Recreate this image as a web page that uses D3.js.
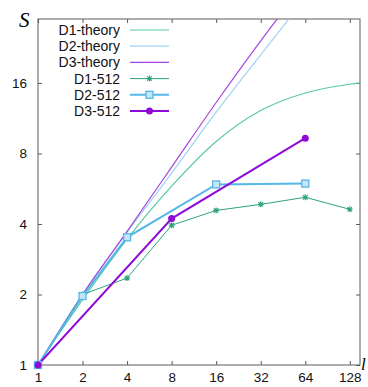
<!DOCTYPE html>
<html>
<head>
<meta charset="utf-8">
<script src="https://cdn.jsdelivr.net/npm/d3@7"></script>
<style>
  body { margin: 0; background: #fff; }
  svg { display: block; font-family: "Liberation Sans", Arial, sans-serif; }
</style>
</head>
<body>
<div class="chart"></div>
<script>
/* data */
const xTicks = [1, 2, 4, 8, 16, 32, 64, 128];
const yTicks = [1, 2, 4, 8, 16];

// theory curves (sampled)
const theoryL  = [1, 2, 4, 8, 16, 32, 64, 128, 150];
const d1Theory = [1, 1.9, 3.45, 5.8, 9.0, 12.2, 14.5, 15.8, 16.0];
const d2Theory = [1, 2, 3.68, 6.6, 12.0, 21.1, 36.8];
const d3Theory = [1, 2, 3.72, 7.0, 13.2, 24.2, 43];

// measured
const d1L = [1, 2, 4, 8, 16, 32, 64, 128];
const d1S = [1, 2.0, 2.35, 3.95, 4.57, 4.85, 5.2, 4.62];
const d2L = [1, 2, 4, 16, 64];
const d2S = [1, 1.97, 3.51, 5.9, 5.95];
const d3L = [1, 8, 64];
const d3S = [1, 4.22, 9.3];

const svg_width = 368, svg_height = 387;
const plot = { left: 38, right: 360, top: 19, bottom: 365 };

const svg = d3.select(".chart").append("svg")
    .attr("width", svg_width).attr("height", svg_height);

const xScale = d3.scaleLog().base(2).domain([1, 150]).range([plot.left, plot.right]);
const yScale = d3.scaleLog().base(2).domain([1, 30]).range([plot.bottom, plot.top]);

/* clip */
svg.append("clipPath").attr("id", "clip").append("rect")
    .attr("x", plot.left).attr("y", plot.top)
    .attr("width", plot.right - plot.left).attr("height", plot.bottom - plot.top);

const axisColor = "#5a5a5a";

/* axes */
function styleAxis(g) {
    g.select(".domain").remove();
    g.selectAll(".tick line").attr("stroke", axisColor);
    g.selectAll(".tick text").attr("fill", "#111").style("font-size", "13.5px")
        .style("font-family", "'Liberation Sans', Arial, sans-serif");
}
svg.append("g").attr("transform", `translate(0,${plot.bottom})`)
    .call(d3.axisBottom(xScale).tickValues(xTicks).tickFormat(d3.format("d"))
        .tickSizeInner(-4).tickSizeOuter(0).tickPadding(7))
    .call(styleAxis);
svg.append("g").attr("transform", `translate(0,${plot.top})`)
    .call(d3.axisTop(xScale).tickValues(xTicks).tickFormat("")
        .tickSizeInner(-4).tickSizeOuter(0))
    .call(styleAxis);
svg.append("g").attr("transform", `translate(${plot.left},0)`)
    .call(d3.axisLeft(yScale).tickValues(yTicks).tickFormat(d3.format("d"))
        .tickSizeInner(-4).tickSizeOuter(0).tickPadding(11))
    .call(styleAxis);
svg.append("g").attr("transform", `translate(${plot.right},0)`)
    .call(d3.axisRight(yScale).tickValues(yTicks).tickFormat("")
        .tickSizeInner(-4).tickSizeOuter(0))
    .call(styleAxis);

svg.append("rect")
    .attr("x", plot.left).attr("y", plot.top)
    .attr("width", plot.right - plot.left).attr("height", plot.bottom - plot.top)
    .attr("fill", "none").attr("stroke", axisColor).attr("stroke-width", 1);

/* axis labels */
svg.append("text").attr("x", 19).attr("y", 27)
    .style("font-family", "'Liberation Serif', 'Times New Roman', serif")
    .style("font-style", "italic").style("font-size", "21px").text("S");
svg.append("text").attr("x", 361).attr("y", 370)
    .style("font-family", "'Liberation Serif', 'Times New Roman', serif")
    .style("font-style", "italic").style("font-size", "17px").text("l");

/* series */
const series = [
    { name: "D1-theory", l: theoryL, s: d1Theory, color: "#58c9a0", width: 1.2, curve: true },
    { name: "D2-theory", l: theoryL, s: d2Theory, color: "#9ed2f3", width: 1.2, curve: true },
    { name: "D3-theory", l: theoryL, s: d3Theory, color: "#a546e0", width: 1.2, curve: true },
    { name: "D1-512", l: d1L, s: d1S, color: "#2ea37c", width: 1, marker: "star" },
    { name: "D2-512", l: d2L, s: d2S, color: "#55b6ea", width: 2, marker: "square" },
    { name: "D3-512", l: d3L, s: d3S, color: "#8f0ad6", width: 2, marker: "circle" }
];

const chartGroup = svg.append("g").attr("clip-path", "url(#clip)");

series.forEach(sr => {
    const pts = sr.s.map((v, i) => [sr.l[i], v]);
    const lineGen = d3.line()
        .x(d => xScale(d[0])).y(d => yScale(d[1]))
        .curve(sr.curve ? d3.curveMonotoneX : d3.curveLinear);
    chartGroup.append("path")
        .attr("d", lineGen(pts))
        .attr("fill", "none").attr("stroke", sr.color).attr("stroke-width", sr.width);
    if (sr.marker) {
        pts.forEach(p => drawMarker(svg, sr, xScale(p[0]), yScale(p[1])));
    }
});

function drawMarker(g, sr, cx, cy) {
    if (sr.marker === "star") {
        const r = 3;
        g.append("path")
            .attr("d", `M${cx - r},${cy}h${2 * r}M${cx},${cy - r}v${2 * r}` +
                `M${cx - r * 0.75},${cy - r * 0.75}l${1.5 * r},${1.5 * r}` +
                `M${cx - r * 0.75},${cy + r * 0.75}l${1.5 * r},${-1.5 * r}`)
            .attr("stroke", sr.color).attr("stroke-width", 1.1).attr("fill", "none");
    } else if (sr.marker === "square") {
        g.append("rect").attr("x", cx - 3.5).attr("y", cy - 3.5)
            .attr("width", 7).attr("height", 7)
            .attr("fill", "#c6e6f8").attr("stroke", sr.color).attr("stroke-width", 1.3);
    } else {
        g.append("circle").attr("cx", cx).attr("cy", cy).attr("r", 3.5)
            .attr("fill", sr.color);
    }
}

/* legend */
const legend = svg.append("g");
series.forEach((sr, i) => {
    const y = 30 + i * 16.2;
    legend.append("text").attr("x", 120).attr("y", y).attr("dy", "0.35em")
        .attr("text-anchor", "end").style("font-size", "14px").attr("fill", "#111")
        .text(sr.name);
    legend.append("line").attr("x1", 130).attr("x2", 169).attr("y1", y).attr("y2", y)
        .attr("stroke", sr.color).attr("stroke-width", sr.width);
    if (sr.marker) drawMarker(legend, sr, 149.5, y);
});
</script>
</body>
</html>
